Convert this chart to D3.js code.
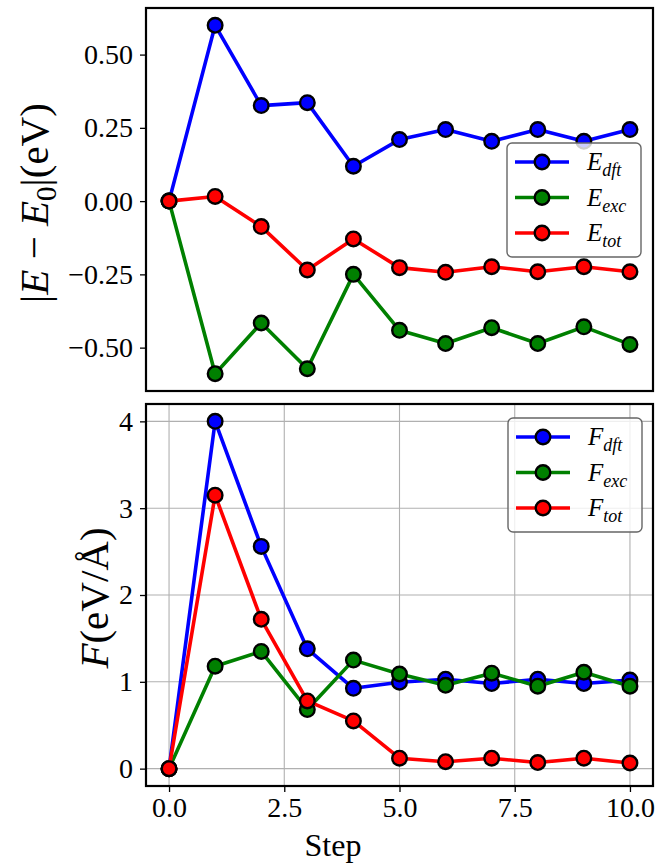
<!DOCTYPE html>
<html>
<head>
<meta charset="utf-8">
<script src="https://cdn.jsdelivr.net/npm/d3@7"></script>
<style>
  body { margin: 0; background: #fff; }
  text { font-family: "Liberation Serif", "DejaVu Serif", serif; }
</style>
</head>
<body>
<script>
// data
var steps = [0, 1, 2, 3, 4, 5, 6, 7, 8, 9, 10];
var eDft = [0, 0.600, 0.326, 0.336, 0.119, 0.210, 0.244, 0.204, 0.244, 0.204, 0.244];
var eExc = [0, -0.589, -0.416, -0.572, -0.250, -0.441, -0.486, -0.432, -0.486, -0.429, -0.489];
var eTot = [0, 0.016, -0.087, -0.235, -0.129, -0.227, -0.243, -0.224, -0.241, -0.224, -0.241];
var fDft = [0, 4.00, 2.56, 1.38, 0.925, 0.995, 1.03, 0.98, 1.03, 0.98, 1.02];
var fExc = [0, 1.18, 1.35, 0.68, 1.25, 1.09, 0.96, 1.10, 0.95, 1.11, 0.95];
var fTot = [0, 3.15, 1.72, 0.78, 0.55, 0.12, 0.08, 0.12, 0.07, 0.12, 0.065];
var xTicks = [0, 2.5, 5, 7.5, 10];
var eTicks = [-0.5, -0.25, 0, 0.25, 0.5];
var fTicks = [0, 1, 2, 3, 4];
var colors = ["#0000ff", "#008000", "#ff0000"];
var subs = ["dft", "exc", "tot"];

var width = 667, height = 863;
var svg = d3.select("body").append("svg").attr("width", width).attr("height", height);

var x = d3.scaleLinear().domain([-0.5, 10.5]).range([146, 653]);
var yTop = d3.scaleLinear().domain([-0.648, 0.659]).range([391, 8]);
var yBot = d3.scaleLinear().domain([-0.2, 4.2]).range([786, 404]);

function panel(y, series, ticks, fmt, sym, legendBox, grid, showX) {
    var g = svg.append("g");
    var y0 = y.range()[1], y1 = y.range()[0];

    if (grid) {
        g.selectAll("line.gx").data(xTicks).enter().append("line")
            .attr("x1", function (d) { return x(d); }).attr("x2", function (d) { return x(d); })
            .attr("y1", y0).attr("y2", y1)
            .attr("stroke", "#b0b0b0").attr("stroke-width", 1.1);
        g.selectAll("line.gy").data(ticks).enter().append("line")
            .attr("y1", function (d) { return y(d); }).attr("y2", function (d) { return y(d); })
            .attr("x1", 146).attr("x2", 653)
            .attr("stroke", "#b0b0b0").attr("stroke-width", 1.1);
    }

    var line = d3.line().x(function (d, i) { return x(steps[i]); }).y(function (d) { return y(d); });
    series.forEach(function (s, k) {
        g.append("path").attr("d", line(s)).attr("fill", "none")
            .attr("stroke", colors[k]).attr("stroke-width", 3.6).attr("stroke-linejoin", "round");
        g.selectAll("circle.s" + k).data(s).enter().append("circle")
            .attr("cx", function (d, i) { return x(steps[i]); })
            .attr("cy", function (d) { return y(d); })
            .attr("r", 7.3)
            .attr("fill", colors[k]).attr("stroke", "#000").attr("stroke-width", 2.4);
    });

    var yAxis = d3.axisLeft(y).tickValues(ticks).tickFormat(fmt).tickSize(6).tickPadding(7);
    var ga = g.append("g").attr("transform", "translate(146,0)").call(yAxis);
    ga.select(".domain").remove();
    ga.selectAll("line").attr("stroke-width", 1.3);
    ga.selectAll("text").attr("font-size", 28).attr("font-family", "Liberation Serif").attr("fill", "#000");

    if (showX) {
        var xAxis = d3.axisBottom(x).tickValues(xTicks).tickFormat(d3.format(".1f")).tickSize(6).tickPadding(5);
        var gx = g.append("g").attr("transform", "translate(0," + y1 + ")").call(xAxis);
        gx.select(".domain").remove();
        gx.selectAll("line").attr("stroke-width", 1.3);
        gx.selectAll("text").attr("font-size", 28).attr("font-family", "Liberation Serif").attr("fill", "#000");
    }

    g.append("rect").attr("x", 146).attr("y", y0).attr("width", 653 - 146).attr("height", y1 - y0)
        .attr("fill", "none").attr("stroke", "#000").attr("stroke-width", 2.2);

    // legend
    var lg = g.append("g").attr("transform", "translate(" + legendBox[0] + "," + legendBox[1] + ")");
    lg.append("rect").attr("width", 134).attr("height", 114).attr("rx", 5)
        .attr("fill", "#fff").attr("fill-opacity", 0.8).attr("stroke", "#666").attr("stroke-width", 1.4);
    subs.forEach(function (sb, k) {
        var yy = 19 + k * 35.5;
        lg.append("line").attr("x1", 8).attr("x2", 62).attr("y1", yy).attr("y2", yy)
            .attr("stroke", colors[k]).attr("stroke-width", 3.6);
        lg.append("circle").attr("cx", 35).attr("cy", yy).attr("r", 7.3)
            .attr("fill", colors[k]).attr("stroke", "#000").attr("stroke-width", 2.4);
        var t = lg.append("text").attr("x", 80).attr("y", yy + 8).attr("font-size", 25).attr("font-style", "italic");
        t.append("tspan").text(sym);
        t.append("tspan").attr("font-size", 18).attr("dy", 6).text(sb);
    });
}

panel(yTop, [eDft, eExc, eTot], eTicks, d3.format(".2f"), "E", [507, 143], false, false);
panel(yBot, [fDft, fExc, fTot], fTicks, d3.format("d"), "F", [508, 418], true, true);

// y labels
var t1 = svg.append("text").attr("transform", "translate(48,203) rotate(-90)")
    .attr("text-anchor", "middle").attr("font-size", 41);
t1.append("tspan").text("|");
t1.append("tspan").attr("font-style", "italic").text("E");
t1.append("tspan").text(" − ");
t1.append("tspan").attr("font-style", "italic").text("E");
t1.append("tspan").attr("font-size", 29).attr("dy", 8).text("0");
t1.append("tspan").attr("dy", -8).text("|(eV)");

var t2 = svg.append("text").attr("transform", "translate(108,598) rotate(-90)")
    .attr("text-anchor", "middle").attr("font-size", 41);
t2.append("tspan").attr("font-style", "italic").text("F");
t2.append("tspan").text("(eV/Å)");

svg.append("text").attr("x", 333).attr("y", 856).attr("text-anchor", "middle")
    .attr("font-size", 32).text("Step");
</script>
</body>
</html>
